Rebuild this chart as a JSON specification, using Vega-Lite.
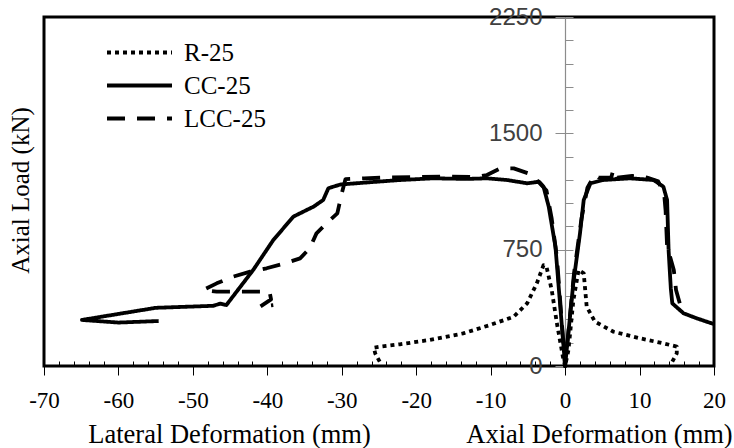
{
  "$schema": "https://vega.github.io/schema/vega-lite/v6.json",
  "width": 670,
  "height": 349,
  "autosize": {"type": "none"},
  "padding": {"left": 44, "top": 17, "right": 20, "bottom": 82},
  "background": "white",
  "config": {
    "view": {"stroke": "black", "strokeWidth": 3},
    "axis": {"grid": false, "labelFont": "Liberation Serif", "titleFont": "Liberation Serif", "titleFontWeight": "normal", "titleColor": "black", "labelColor": "black"},
    "legend": {"labelFont": "Liberation Serif", "labelFontSize": 25, "labelColor": "black", "symbolType": "M-2,0H2", "symbolSize": 1056, "symbolStrokeWidth": 3.8, "symbolStrokeColor": "black", "symbolFillColor": "transparent", "labelOffset": 26, "rowPadding": 1, "padding": 0, "title": null}
  },
  "data": {"values": [
    {"s": "CC-25", "i": 1, "x": 20, "y": 270},
    {"s": "CC-25", "i": 2, "x": 17.7, "y": 307},
    {"s": "CC-25", "i": 3, "x": 15.9, "y": 340},
    {"s": "CC-25", "i": 4, "x": 14.4, "y": 404},
    {"s": "CC-25", "i": 5, "x": 14.2, "y": 500},
    {"s": "CC-25", "i": 6, "x": 13.9, "y": 748},
    {"s": "CC-25", "i": 7, "x": 13.7, "y": 1070},
    {"s": "CC-25", "i": 8, "x": 13.2, "y": 1156},
    {"s": "CC-25", "i": 9, "x": 11.9, "y": 1199},
    {"s": "CC-25", "i": 10, "x": 8.7, "y": 1210},
    {"s": "CC-25", "i": 11, "x": 5.1, "y": 1199},
    {"s": "CC-25", "i": 12, "x": 3.4, "y": 1178},
    {"s": "CC-25", "i": 13, "x": 2.5, "y": 1070},
    {"s": "CC-25", "i": 14, "x": 2.0, "y": 855},
    {"s": "CC-25", "i": 15, "x": 1.1, "y": 533},
    {"s": "CC-25", "i": 16, "x": 0, "y": 0},
    {"s": "CC-25", "i": 17, "x": -1.3, "y": 769},
    {"s": "CC-25", "i": 18, "x": -2.2, "y": 1027},
    {"s": "CC-25", "i": 19, "x": -2.9, "y": 1156},
    {"s": "CC-25", "i": 20, "x": -3.5, "y": 1188},
    {"s": "CC-25", "i": 21, "x": -5.1, "y": 1178},
    {"s": "CC-25", "i": 22, "x": -7.8, "y": 1199},
    {"s": "CC-25", "i": 23, "x": -10.5, "y": 1210},
    {"s": "CC-25", "i": 24, "x": -13.2, "y": 1206},
    {"s": "CC-25", "i": 25, "x": -17.7, "y": 1210},
    {"s": "CC-25", "i": 26, "x": -22.2, "y": 1199},
    {"s": "CC-25", "i": 27, "x": -26.7, "y": 1183},
    {"s": "CC-25", "i": 28, "x": -30.2, "y": 1170},
    {"s": "CC-25", "i": 29, "x": -31.8, "y": 1146},
    {"s": "CC-25", "i": 30, "x": -32.5, "y": 1070},
    {"s": "CC-25", "i": 31, "x": -33.8, "y": 1027},
    {"s": "CC-25", "i": 32, "x": -34.7, "y": 1006},
    {"s": "CC-25", "i": 33, "x": -36.5, "y": 963},
    {"s": "CC-25", "i": 34, "x": -39.2, "y": 812},
    {"s": "CC-25", "i": 35, "x": -41.9, "y": 619},
    {"s": "CC-25", "i": 36, "x": -45.5, "y": 393},
    {"s": "CC-25", "i": 37, "x": -46.3, "y": 402},
    {"s": "CC-25", "i": 38, "x": -47.3, "y": 388},
    {"s": "CC-25", "i": 39, "x": -55, "y": 375},
    {"s": "CC-25", "i": 40, "x": -64.9, "y": 297},
    {"s": "CC-25", "i": 41, "x": -60, "y": 280},
    {"s": "CC-25", "i": 42, "x": -54.6, "y": 290},
    {"s": "LCC-25", "i": 1, "x": 15.4, "y": 404},
    {"s": "LCC-25", "i": 2, "x": 14.9, "y": 490},
    {"s": "LCC-25", "i": 3, "x": 14.6, "y": 619},
    {"s": "LCC-25", "i": 4, "x": 14.1, "y": 705},
    {"s": "LCC-25", "i": 5, "x": 13.7, "y": 769},
    {"s": "LCC-25", "i": 6, "x": 13.5, "y": 1000},
    {"s": "LCC-25", "i": 7, "x": 13.3, "y": 1113},
    {"s": "LCC-25", "i": 8, "x": 12.5, "y": 1190},
    {"s": "LCC-25", "i": 9, "x": 11, "y": 1215},
    {"s": "LCC-25", "i": 10, "x": 9, "y": 1225},
    {"s": "LCC-25", "i": 11, "x": 7, "y": 1215},
    {"s": "LCC-25", "i": 12, "x": 6.5, "y": 1270},
    {"s": "LCC-25", "i": 13, "x": 6.2, "y": 1215},
    {"s": "LCC-25", "i": 14, "x": 4.5, "y": 1215},
    {"s": "LCC-25", "i": 15, "x": 4.0, "y": 1235},
    {"s": "LCC-25", "i": 16, "x": 3.0, "y": 1150},
    {"s": "LCC-25", "i": 17, "x": 2.2, "y": 950},
    {"s": "LCC-25", "i": 18, "x": 1.2, "y": 600},
    {"s": "LCC-25", "i": 19, "x": 0, "y": 0},
    {"s": "LCC-25", "i": 20, "x": -1.1, "y": 700},
    {"s": "LCC-25", "i": 21, "x": -1.8, "y": 950},
    {"s": "LCC-25", "i": 22, "x": -2.5, "y": 1131},
    {"s": "LCC-25", "i": 23, "x": -3.6, "y": 1188},
    {"s": "LCC-25", "i": 24, "x": -4.7, "y": 1238},
    {"s": "LCC-25", "i": 25, "x": -6.9, "y": 1274},
    {"s": "LCC-25", "i": 26, "x": -8.7, "y": 1274},
    {"s": "LCC-25", "i": 27, "x": -10.5, "y": 1231},
    {"s": "LCC-25", "i": 28, "x": -12, "y": 1218},
    {"s": "LCC-25", "i": 29, "x": -16, "y": 1222},
    {"s": "LCC-25", "i": 30, "x": -20, "y": 1218},
    {"s": "LCC-25", "i": 31, "x": -24, "y": 1215},
    {"s": "LCC-25", "i": 32, "x": -27, "y": 1210},
    {"s": "LCC-25", "i": 33, "x": -29.5, "y": 1205},
    {"s": "LCC-25", "i": 34, "x": -30.0, "y": 1113},
    {"s": "LCC-25", "i": 35, "x": -30.6, "y": 984},
    {"s": "LCC-25", "i": 36, "x": -31.6, "y": 940},
    {"s": "LCC-25", "i": 37, "x": -33.4, "y": 855},
    {"s": "LCC-25", "i": 38, "x": -34.3, "y": 759},
    {"s": "LCC-25", "i": 39, "x": -35.6, "y": 694},
    {"s": "LCC-25", "i": 40, "x": -37.6, "y": 662},
    {"s": "LCC-25", "i": 41, "x": -40.1, "y": 630},
    {"s": "LCC-25", "i": 42, "x": -42.3, "y": 608},
    {"s": "LCC-25", "i": 43, "x": -44.6, "y": 576},
    {"s": "LCC-25", "i": 44, "x": -46.8, "y": 533},
    {"s": "LCC-25", "i": 45, "x": -48.6, "y": 490},
    {"s": "LCC-25", "i": 46, "x": -46.8, "y": 479},
    {"s": "LCC-25", "i": 47, "x": -39.7, "y": 479},
    {"s": "LCC-25", "i": 48, "x": -39.5, "y": 430},
    {"s": "LCC-25", "i": 49, "x": -41, "y": 382},
    {"s": "LCC-25", "i": 50, "x": -39.2, "y": 393},
    {"s": "R-25", "i": 1, "x": 14.4, "y": 28},
    {"s": "R-25", "i": 2, "x": 15.0, "y": 82},
    {"s": "R-25", "i": 3, "x": 15.0, "y": 125},
    {"s": "R-25", "i": 4, "x": 13.2, "y": 146},
    {"s": "R-25", "i": 5, "x": 10.1, "y": 178},
    {"s": "R-25", "i": 6, "x": 6.5, "y": 221},
    {"s": "R-25", "i": 7, "x": 4.0, "y": 286},
    {"s": "R-25", "i": 8, "x": 2.9, "y": 382},
    {"s": "R-25", "i": 9, "x": 2.7, "y": 490},
    {"s": "R-25", "i": 10, "x": 2.5, "y": 597},
    {"s": "R-25", "i": 11, "x": 1.8, "y": 619},
    {"s": "R-25", "i": 12, "x": 1.6, "y": 560},
    {"s": "R-25", "i": 13, "x": 1.1, "y": 420},
    {"s": "R-25", "i": 14, "x": 0.45, "y": 103},
    {"s": "R-25", "i": 15, "x": 0, "y": 0},
    {"s": "R-25", "i": 16, "x": -0.3, "y": 60},
    {"s": "R-25", "i": 17, "x": -1.1, "y": 275},
    {"s": "R-25", "i": 18, "x": -1.8, "y": 490},
    {"s": "R-25", "i": 19, "x": -2.5, "y": 640},
    {"s": "R-25", "i": 20, "x": -2.9, "y": 650},
    {"s": "R-25", "i": 21, "x": -3.8, "y": 533},
    {"s": "R-25", "i": 22, "x": -5.1, "y": 404},
    {"s": "R-25", "i": 23, "x": -6.9, "y": 318},
    {"s": "R-25", "i": 24, "x": -10.1, "y": 264},
    {"s": "R-25", "i": 25, "x": -13.7, "y": 210},
    {"s": "R-25", "i": 26, "x": -18.2, "y": 168},
    {"s": "R-25", "i": 27, "x": -22.2, "y": 140},
    {"s": "R-25", "i": 28, "x": -24.8, "y": 125},
    {"s": "R-25", "i": 29, "x": -25.7, "y": 118},
    {"s": "R-25", "i": 30, "x": -25.5, "y": 80},
    {"s": "R-25", "i": 31, "x": -24.9, "y": 28}
  ]},
  "layer": [
    {
      "transform": [{"filter": "datum.s !== 'R-25'"}],
      "mark": {"type": "line", "color": "black", "strokeWidth": 3.8, "strokeCap": "butt", "strokeJoin": "round"},
      "encoding": {
        "x": {"field": "x", "type": "quantitative", "scale": {"domain": [-70, 20], "nice": false, "zero": false},
          "axis": {"orient": "bottom", "values": [-70, -60, -50, -40, -30, -20, -10, 0, 10, 20], "labelExpr": "datum.value < 0 ? '-' + abs(datum.value) : '' + datum.value", "tickSize": 9, "tickColor": "black", "tickWidth": 1, "domain": false, "labelFontSize": 23, "labelFlush": false, "labelBaseline": "alphabetic", "labelPadding": 32, "labelOverlap": false, "title": "Lateral Deformation (mm)", "titleFontSize": 26.5, "titleX": 185, "titleY": 76, "titleBaseline": "alphabetic", "titleAlign": "center"}},
        "y": {"field": "y", "type": "quantitative", "scale": {"domain": [0, 2250], "nice": false, "zero": false},
          "axis": {"orient": "left", "offset": -521, "values": [0, 750, 1500, 2250], "format": "d", "tickSize": 10, "tickColor": "#8c8c8c", "domainColor": "#8c8c8c", "domainWidth": 1.2, "labelFont": "Liberation Sans", "labelFontSize": 24, "labelColor": "#404040", "labelPadding": 13, "labelBaseline": "middle", "labelFlush": false, "labelOverlap": false, "title": "Axial Load (kN)", "titleFontSize": 25, "titleX": -545, "titleY": 173, "titleAngle": -90, "titleBaseline": "middle", "titleAlign": "center"}},
        "strokeDash": {"field": "s", "type": "nominal", "scale": {"domain": ["R-25", "CC-25", "LCC-25"], "range": [[4, 4], [1, 0], [18, 12]]},
          "legend": {"orient": "none", "legendX": 77, "legendY": 17}},
        "order": {"field": "i", "type": "quantitative"}
      }
    },
    {
      "transform": [{"filter": "datum.s === 'R-25'"}],
      "mark": {"type": "line", "color": "black", "strokeWidth": 3.8, "strokeCap": "butt", "strokeJoin": "round"},
      "encoding": {
        "x": {"field": "x", "type": "quantitative", "scale": {"domain": [-70, 20], "nice": false, "zero": false},
          "axis": {"orient": "bottom", "values": [-68, -66, -64, -62, -58, -56, -54, -52, -48, -46, -44, -42, -38, -36, -34, -32, -28, -26, -24, -22, -18, -16, -14, -12, -8, -6, -4, -2, 2, 4, 6, 8, 12, 14, 16, 18], "tickSize": -5, "tickColor": "black", "tickWidth": 1, "domain": false, "labels": false, "title": "Axial Deformation (mm)", "titleFontSize": 26.5, "titleX": 555, "titleY": 76, "titleBaseline": "alphabetic", "titleAlign": "center"}},
        "y": {"field": "y", "type": "quantitative", "scale": {"domain": [0, 2250], "nice": false, "zero": false},
          "axis": {"orient": "right", "offset": -149, "values": [150, 300, 450, 600, 750, 900, 1050, 1200, 1350, 1500, 1650, 1800, 1950, 2100, 2250], "tickSize": 8, "tickColor": "#8c8c8c", "domain": false, "labels": false, "title": null}},
        "strokeDash": {"field": "s", "type": "nominal", "scale": {"domain": ["R-25", "CC-25", "LCC-25"], "range": [[4, 4], [1, 0], [18, 12]]},
          "legend": {"orient": "none", "legendX": 77, "legendY": 17}},
        "order": {"field": "i", "type": "quantitative"}
      }
    }
  ],
  "resolve": {"axis": {"x": "independent", "y": "independent"}}
}
